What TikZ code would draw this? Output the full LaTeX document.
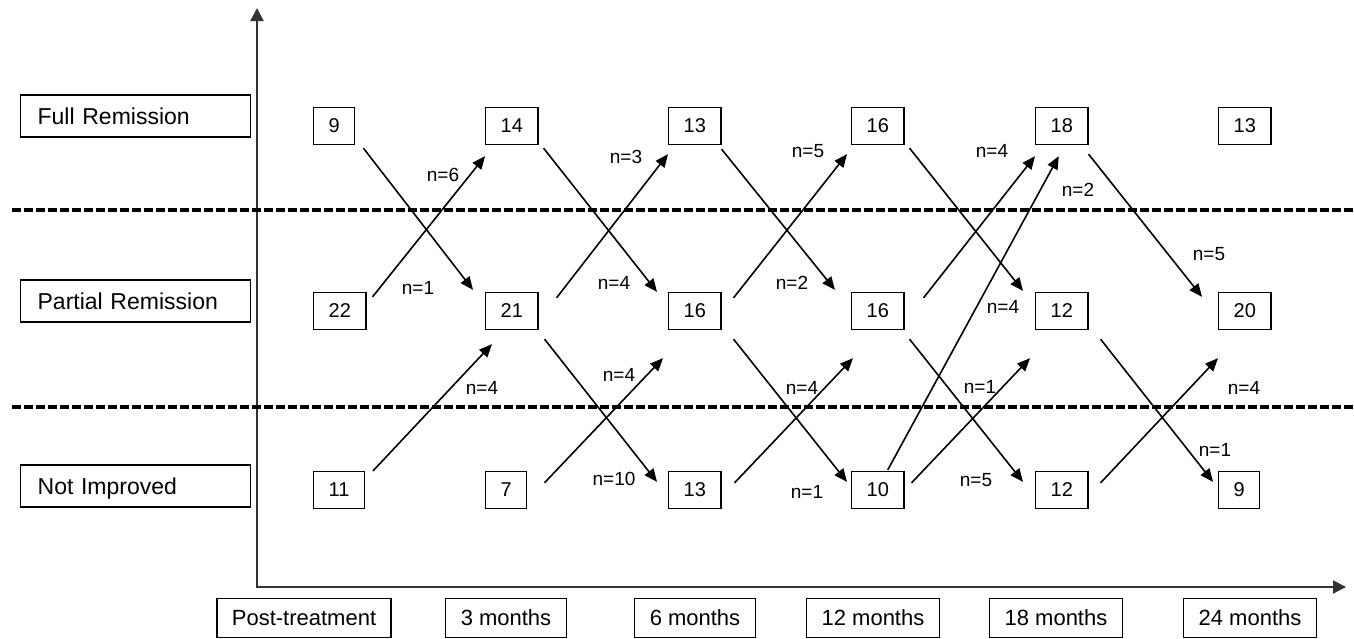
\documentclass[tikz,border=0pt]{standalone}
\usepackage{fontspec}
\setmainfont{Liberation Sans}
\usetikzlibrary{arrows.meta}

\tikzset{
  cnt/.style={draw, line width=1.3pt, minimum height=37pt, inner xsep=15pt, inner ysep=0pt, anchor=west, font=\fontsize{20}{24}\selectfont},
  grp/.style={draw, line width=1.3pt, minimum height=42pt, text width=196pt, inner xsep=17pt, align=left, anchor=west, text depth=0pt, font=\fontsize{23}{27}\selectfont},
  tlab/.style={draw, line width=1.3pt, minimum height=39pt, inner xsep=15pt, text depth=0pt, font=\fontsize{22}{26}\selectfont},
  nlab/.style={inner sep=0pt, font=\fontsize{19}{23}\selectfont},
  flow/.style={line width=1.6pt, -{Triangle[length=13pt,width=11pt]}},
  axis/.style={line width=2pt, draw=black!80, {Triangle[length=13pt,width=13pt]}-{Triangle[length=13pt,width=13pt]}},
  band/.style={line width=3.5pt, dash pattern=on 9pt off 3pt},
}

\begin{document}
\begin{tikzpicture}[x=1pt, y=-1pt]
        \useasboundingbox (0,0) rectangle (1354,638);
        % outcome groups
        \node[grp] (full) at (20,116) {Full Remission};
        \node[grp] (part) at (20,301) {Partial Remission};
        \node[grp] (none) at (20,486) {Not Improved};
        % axes and band borders
        \coordinate (ytip) at (257,8);
        \coordinate (xtip) at (1346,587);
        \draw[axis] (ytip) |- (xtip);
        \coordinate (b1l) at (12,210);
        \coordinate (b1r) at (1354,210);
        \coordinate (b2l) at (12,407);
        \coordinate (b2r) at (1354,407);
        \draw[band] (b1l) -- (b1r);
        \draw[band] (b2l) -- (b2r);
        % time points
        \node[tlab] (t0) at (304,618) {Post-treatment};
        \node[tlab] (t1) at (506,618) {3 months};
        \node[tlab] (t2) at (695,618) {6 months};
        \node[tlab] (t3) at (873,618) {12 months};
        \node[tlab] (t4) at (1056,618) {18 months};
        \node[tlab] (t5) at (1250,618) {24 months};
        % counts
        \node[cnt] (fr0) at (313,126) {9};
        \node[cnt] (fr1) at (485,126) {14};
        \node[cnt] (fr2) at (668,126) {13};
        \node[cnt] (fr3) at (851,126) {16};
        \node[cnt] (fr4) at (1035,126) {18};
        \node[cnt] (fr5) at (1218,126) {13};
        \node[cnt] (pr0) at (313,311) {22};
        \node[cnt] (pr1) at (485,311) {21};
        \node[cnt] (pr2) at (668,311) {16};
        \node[cnt] (pr3) at (851,311) {16};
        \node[cnt] (pr4) at (1035,311) {12};
        \node[cnt] (pr5) at (1218,311) {20};
        \node[cnt] (ni0) at (313,490) {11};
        \node[cnt] (ni1) at (485,490) {7};
        \node[cnt] (ni2) at (668,490) {13};
        \node[cnt] (ni3) at (851,490) {10};
        \node[cnt] (ni4) at (1035,490) {12};
        \node[cnt] (ni5) at (1218,490) {9};
        % transitions
        \draw[flow] ([shift={(8,3)}]fr0.south east) -- ([shift={(-12,-2)}]pr1.north west);
        \draw[flow] ([shift={(5,3)}]fr1.south east) -- ([shift={(-11,0)}]pr2.north west);
        \draw[flow] ([shift={(0,4)}]fr2.south east) -- ([shift={(-16,-2)}]pr3.north west);
        \draw[flow] ([shift={(5,3)}]fr3.south east) -- ([shift={(-12,-1)}]pr4.north west);
        \draw[flow] ([shift={(0,9)}]fr4.south east) -- ([shift={(-16,5)}]pr5.north west);
        \draw[flow] ([shift={(6,5)}]pr0.north east) -- ([shift={(0,11)}]fr1.south west);
        \draw[flow] ([shift={(18,6)}]pr1.north east) -- ([shift={(0,9)}]fr2.south west);
        \draw[flow] ([shift={(12,6)}]pr2.north east) -- ([shift={(-4,9)}]fr3.south west);
        \draw[flow] ([shift={(19,6)}]pr3.north east) -- ([shift={(0,11)}]fr4.south west);
        \draw[flow] ([shift={(6,9)}]pr1.south east) -- ([shift={(-11,11)}]ni2.north west);
        \draw[flow] ([shift={(12,9)}]pr2.south east) -- ([shift={(-4,11)}]ni3.north west);
        \draw[flow] ([shift={(5,9)}]pr3.south east) -- ([shift={(-12,11)}]ni4.north west);
        \draw[flow] ([shift={(12,9)}]pr4.south east) -- ([shift={(-5,11)}]ni5.north west);
        \draw[flow] ([shift={(8,0)}]ni0.north east) -- ([shift={(7,14)}]pr1.south west);
        \draw[flow] ([shift={(17,12)}]ni1.north east) -- ([shift={(-5,28)}]pr2.south west);
        \draw[flow] ([shift={(13,12)}]ni2.north east) -- ([shift={(2,28)}]pr3.south west);
        \draw[flow] ([shift={(7,12)}]ni3.north east) -- ([shift={(-5,28)}]pr4.south west);
        \draw[flow] ([shift={(12,12)}]ni4.north east) -- ([shift={(0,28)}]pr5.south west);
        \draw[flow] ([shift={(10,-1)}]ni3.north) -- ([shift={(-3,11)}]fr4.south);
        % transition sizes
        \node[nlab] (c01a) at (443,175) {n=6};
        \node[nlab] (c01b) at (418,288) {n=1};
        \node[nlab] (c01c) at (482,388) {n=4};
        \node[nlab] (c12a) at (626,157) {n=3};
        \node[nlab] (c12b) at (614,283) {n=4};
        \node[nlab] (c12c) at (619,375) {n=4};
        \node[nlab] (c12d) at (614,479) {n=10};
        \node[nlab] (c23a) at (808,151) {n=5};
        \node[nlab] (c23b) at (792,283) {n=2};
        \node[nlab] (c23c) at (802,388) {n=4};
        \node[nlab] (c23d) at (807,492) {n=1};
        \node[nlab] (c34a) at (992,151) {n=4};
        \node[nlab] (c34b) at (1078,190) {n=2};
        \node[nlab] (c34c) at (1003,307) {n=4};
        \node[nlab] (c34d) at (980,387) {n=1};
        \node[nlab] (c34e) at (976,480) {n=5};
        \node[nlab] (c45a) at (1209,254) {n=5};
        \node[nlab] (c45b) at (1244,388) {n=4};
        \node[nlab] (c45c) at (1215,450) {n=1};
\end{tikzpicture}
\end{document}
